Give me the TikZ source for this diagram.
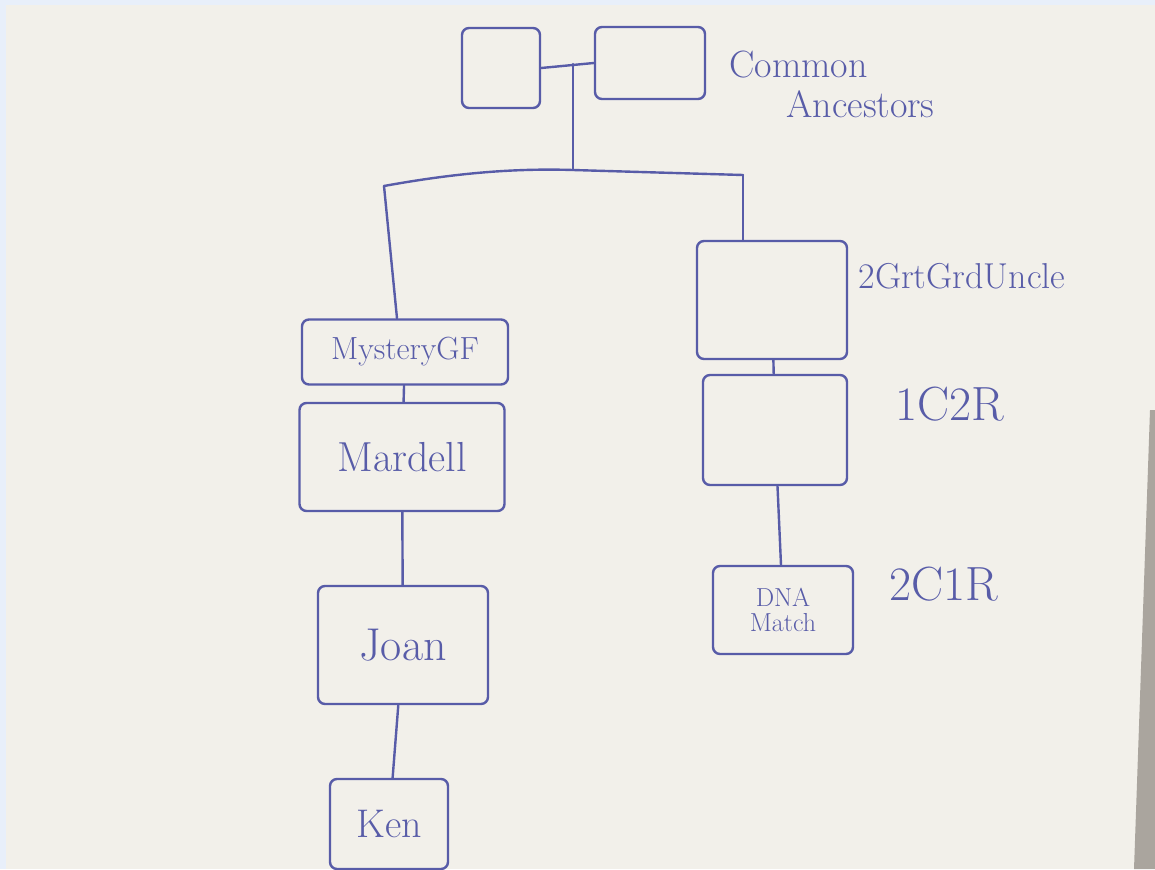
\documentclass[tikz,border=0pt]{standalone}
\usepackage{fontspec}
\definecolor{pen}{RGB}{88,92,168}
\definecolor{paper}{RGB}{242,240,234}
\definecolor{frameblue}{RGB}{232,239,250}
\definecolor{deskgray}{RGB}{170,165,158}
\tikzset{
  pbox/.style={draw=pen, line width=2.4pt, rounded corners=7pt, inner sep=0pt, text=pen},
  conn/.style={draw=pen, line width=2.4pt, line cap=round},
  note/.style={text=pen, inner sep=0pt}
}
\begin{document}
\begin{tikzpicture}[x=1pt,y=-1pt]
\useasboundingbox (0,0) rectangle (1155,869);
% paper background
\fill[paper] (0,0) rectangle (1155,869);
\fill[frameblue] (0,0) rectangle (1155,5);
\fill[frameblue] (0,0) rectangle (6,869);
\fill[deskgray] (1150,410) -- (1155,410) -- (1155,869) -- (1134,869) -- cycle;

% common ancestors
\node[pbox, minimum width=78pt, minimum height=80pt] (anca) at (501,68) {};
\node[pbox, minimum width=110pt, minimum height=72pt] (ancb) at (650,63) {};
\node[note, align=left, font=\fontsize{38}{40}\selectfont] (lblanc) at (832,84)
  {Common\\\hspace*{1.5em}Ancestors};

% left line
\node[pbox, minimum width=206pt, minimum height=65pt, font=\fontsize{32}{34}\selectfont] (mgf) at (405,352) {MysteryGF};
\node[pbox, minimum width=205pt, minimum height=108pt, font=\fontsize{42}{44}\selectfont] (mardell) at (402,457) {Mardell};
\node[pbox, minimum width=170pt, minimum height=118pt, font=\fontsize{46}{48}\selectfont] (joan) at (403,645) {Joan};
\node[pbox, minimum width=118pt, minimum height=90pt, font=\fontsize{40}{42}\selectfont] (ken) at (389,824) {Ken};

% right line
\node[pbox, minimum width=150pt, minimum height=118pt] (uncle) at (772,300) {};
\node[note, font=\fontsize{36}{38}\selectfont] (lbluncle) at (962,276) {2GrtGrdUncle};
\node[pbox, minimum width=144pt, minimum height=110pt] (cousin) at (775,430) {};
\node[note, font=\fontsize{48}{50}\selectfont] (lblcousin) at (950,404) {1C2R};
\node[pbox, minimum width=140pt, minimum height=88pt, align=center, font=\fontsize{26}{25}\selectfont] (dna) at (783,610) {DNA\\Match};
\node[note, font=\fontsize{48}{50}\selectfont] (lbldna) at (944,584) {2C1R};

% connectors
\coordinate (mid) at (573,64);
\coordinate (barC) at (573,170);
\coordinate (barL) at (384,186);
\coordinate (barR) at (743,175);
\draw[conn] (anca.east) -- (ancb.west);
\draw[conn] (mid) -- (barC);
\draw[conn] (barL) .. controls (450,174) and (510,168) .. (barC) .. controls (640,172) .. (barR);
\draw[conn] (barL) -- (mgf.north -| 397,0);
\draw[conn] (barR) -- (uncle.north -| barR);
\draw[conn] (mgf) -- (mardell);
\draw[conn] (mardell) -- (joan);
\draw[conn] (joan) -- (ken);
\draw[conn] (uncle) -- (cousin);
\draw[conn] (cousin) -- (dna);
\end{tikzpicture}
\end{document}
